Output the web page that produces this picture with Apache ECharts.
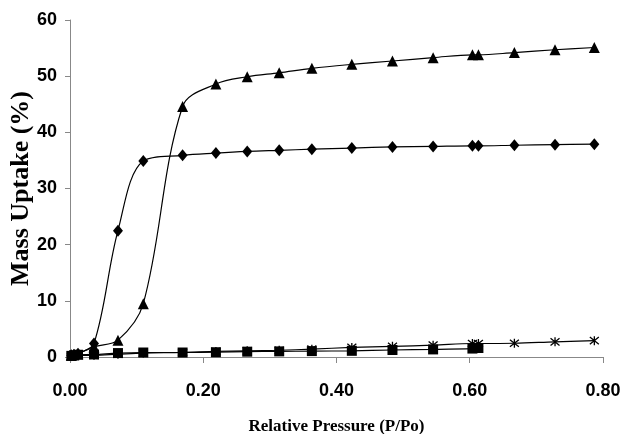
<!DOCTYPE html>
<html>
<head>
<meta charset="utf-8">
<script src="https://cdn.jsdelivr.net/npm/echarts@6/dist/echarts.min.js"></script>
<style>
    html, body { margin: 0; padding: 0; background: #fff; }
    #chart { width: 620px; height: 434px; }
</style>
</head>
<body>
<div id="chart"></div>
<script>
// relative pressure (P/Po) of each measured point
var pressure = [0.002, 0.006, 0.012, 0.036, 0.072, 0.110, 0.169, 0.219, 0.266, 0.314,
    0.363, 0.423, 0.484, 0.545, 0.604, 0.613, 0.667, 0.728, 0.787];
// mass uptake (%) per sample
var diamondVals = [0.3, 0.4, 0.6, 2.4, 22.5, 34.9, 35.9, 36.3, 36.6, 36.8,
    37.0, 37.2, 37.4, 37.5, 37.6, 37.6, 37.7, 37.8, 37.9];
var triangleVals = [0.3, 0.4, 0.6, 1.8, 3.0, 9.5, 44.6, 48.6, 49.9, 50.6,
    51.4, 52.1, 52.7, 53.3, 53.8, 53.8, 54.2, 54.7, 55.1];
var squareVals = [0.2, 0.3, 0.4, 0.45, 0.7, 0.8, 0.8, 0.85, 0.95, 1.0,
    1.05, 1.1, 1.25, 1.35, 1.5, 1.6];
var starVals = [0.1, 0.2, 0.3, 0.3, 0.5, 0.7, 0.8, 1.0, 1.1, 1.2,
    1.4, 1.7, 1.9, 2.1, 2.4, 2.4, 2.45, 2.7, 2.9];
var xTicks = ['0.00', '0.20', '0.40', '0.60', '0.80'];

var labelFont = '"Liberation Sans", Arial, sans-serif';
var titleFont = '"Liberation Serif", serif';

function pairs(vals) {
    var out = [];
    for (var i = 0; i < vals.length; i++) {
        out.push([pressure[i], vals[i]]);
    }
    return out;
}

function makeSeries(vals, symbol, size, extra) {
    var s = {
        type: 'line',
        data: pairs(vals),
        smooth: 0.35,
        symbol: symbol,
        symbolSize: size,
        showSymbol: true,
        lineStyle: { color: '#000', width: 1.2 },
        itemStyle: { color: '#000' },
        emphasis: { disabled: true },
        z: 3
    };
    if (extra) {
        for (var k in extra) s[k] = extra[k];
    }
    return s;
}

var myChart = echarts.init(document.getElementById('chart'));
var option = {
    animation: false,
    backgroundColor: '#fff',
    grid: { left: 70, right: 17, top: 20, bottom: 77, outerBoundsMode: 'none', containLabel: false },
    xAxis: {
        type: 'value',
        min: 0,
        max: 0.8,
        interval: 0.2,
        name: 'Relative Pressure (P/Po)',
        nameLocation: 'middle',
        nameGap: 61,
        nameTextStyle: { fontFamily: titleFont, fontWeight: 'bold', fontSize: 17, color: '#000' },
        axisLine: { lineStyle: { color: '#888', width: 1 } },
        axisTick: { show: true, length: 6, lineStyle: { color: '#888' } },
        axisLabel: {
            margin: 25,
            fontFamily: labelFont,
            fontWeight: 'bold',
            fontSize: 18,
            color: '#000',
            formatter: function (v) {
                return xTicks[Math.round(v / 0.2)];
            }
        },
        splitLine: { show: false }
    },
    yAxis: {
        type: 'value',
        min: 0,
        max: 60,
        interval: 10,
        name: 'Mass Uptake (%)',
        nameLocation: 'middle',
        nameGap: 36,
        nameMoveOverlap: false,
        nameRotate: 90,
        nameTextStyle: { fontFamily: titleFont, fontWeight: 'bold', fontSize: 26, color: '#000' },
        axisLine: { show: true, lineStyle: { color: '#888', width: 1 } },
        axisTick: { show: true, length: 5, lineStyle: { color: '#888' } },
        axisLabel: {
            margin: 13,
            fontFamily: labelFont,
            fontWeight: 'bold',
            fontSize: 18,
            color: '#000'
        },
        splitLine: { show: false }
    },
    series: [
        makeSeries(squareVals, 'rect', 10),
        makeSeries(starVals, 'path://M1,1L9,9M9,1L1,9M5,0L5,10', 9, {
            itemStyle: { color: 'none', borderColor: '#000', borderWidth: 1.3 }
        }),
        makeSeries(diamondVals, 'diamond', [10, 12]),
        makeSeries(triangleVals, 'triangle', 11)
    ]
};

myChart.setOption(option);
</script>
</body>
</html>
